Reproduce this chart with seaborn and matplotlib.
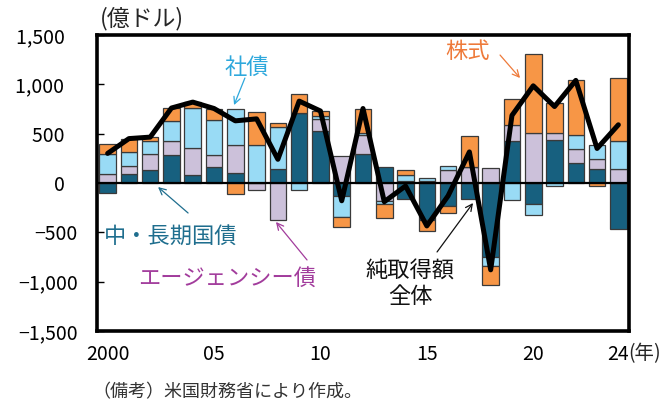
import matplotlib
matplotlib.use("Agg")
import matplotlib.pyplot as plt
import numpy as np
import pandas as pd
import seaborn as sns

# Net purchases of US securities by year (100 million USD)
years = [2000, 2001, 2002, 2003, 2004, 2005, 2006, 2007, 2008, 2009,
         2010, 2011, 2012, 2013, 2014, 2015, 2016, 2017, 2018, 2019,
         2020, 2021, 2022, 2023, 2024]
treasury = [-100, 90, 135, 280, 80, 165, 105, 0, 145, 710,
            530, -130, 295, 165, -160, -370, -235, -165, -745, 430,
            -210, 440, 200, 140, -470]
agency = [95, 80, 160, 145, 270, 115, 280, -70, -370, 0,
          120, 270, 190, -185, 20, 25, 135, 165, 150, 160,
          510, 65, 145, 100, 140]
corporate = [195, 145, 130, 205, 410, 360, 360, 385, 420, -75,
             25, -210, 25, -25, 65, 30, 35, 0, -100, -170,
             -110, -35, 140, 145, 290]
equity = [110, 135, 40, 130, 60, 115, -115, 335, 45, 195,
          55, -110, 245, -145, 45, -120, -65, 315, -185, 265,
          795, 305, 555, -35, 630]

series_names = ["中・長期国債", "エージェンシー債", "社債", "株式"]
series_colors = ["#17607f", "#ccc1da", "#99dbf5", "#f79646"]

ytick_values = [-1500, -1000, -500, 0, 500, 1000, 1500]
ytick_labels = ["−1,500", "−1,000", "−500", "0   ", "500   ", "1,000   ", "1,500   "]
xtick_pos = [0, 5, 10, 15, 20, 24]
xtick_labels = ["2000", "05", "10", "15", "20", "24"]

df = pd.DataFrame({"year": years, "中・長期国債": treasury,
                   "エージェンシー債": agency, "社債": corporate, "株式": equity})
df["total"] = df[series_names].sum(axis=1)
df["pos"] = np.arange(len(df))

sns.set_theme(style="white")
plt.rcParams["font.family"] = ["Noto Sans CJK JP", "DejaVu Sans"]

fig = plt.figure(figsize=(6.72, 4.03), dpi=100)
ax = fig.add_axes([97 / 672, 1 - 331 / 403, 532 / 672, 296 / 403])

# stacked bars: positive parts stack upward, negative parts downward
pos_base = np.zeros(len(df))
neg_base = np.zeros(len(df))
for name, color in zip(series_names, series_colors):
    vals = df[name].to_numpy(dtype=float)
    base = np.where(vals >= 0, pos_base, neg_base)
    ax.bar(df["pos"], vals, bottom=base, width=0.78, color=color,
           edgecolor="#3a3a3a", linewidth=0.9, zorder=2)
    pos_base = pos_base + np.where(vals >= 0, vals, 0)
    neg_base = neg_base + np.where(vals < 0, vals, 0)

ax.axhline(0, color="black", linewidth=1.6, zorder=3)

sns.lineplot(data=df, x="pos", y="total", color="black", linewidth=3.6,
             ax=ax, zorder=4, legend=False)

ax.set_xlim(-0.5, 24.5)
ax.set_ylim(-1500, 1500)
ax.set_yticks(ytick_values)
ax.set_yticklabels(ytick_labels)
ax.set_xticks(xtick_pos)
ax.set_xticklabels(xtick_labels)
ax.set_xlabel("")
ax.set_ylabel("")
ax.tick_params(axis="y", direction="in", length=5, width=1, pad=14,
               labelsize=14, colors="black", left=True)
ax.tick_params(axis="x", length=0, pad=9, labelsize=14, colors="black")
for s in ax.spines.values():
    s.set_color("black")
    s.set_linewidth(2.6)

# year marker placed right after the last tick label, on its baseline
ax.text(24.45, -1500 - 9 * 10.135 * 1.39, "(年)", fontsize=14,
        ha="left", va="top")

fig.text(100 / 672, 1 - 19 / 403, "(億ドル)", fontsize=16.5, ha="left",
         va="center")
fig.text(92 / 672, 1 - 392 / 403, "（備考）米国財務省により作成。",
         fontsize=13, ha="left", va="center", color="#333333")

# labels with pointer arrows
notes = [
    ("社債", (6.55, 1176), (6.45, 1064), (5.94, 790), "#2ea8dc"),
    ("中・長期国債", (2.98, -537), (3.78, -304), (2.37, -41), "#1f6e8e"),
    ("エージェンシー債", (5.61, -963), (9.37, -780), (7.91, -395), "#a23c9c"),
    ("株式", (16.93, 1328), (18.44, 1297), (19.38, 1064), "#ee7a3a"),
    ("純取得額\n全体", (14.21, -1020), (15.48, -699), (17.17, -203), "#111111"),
]
for label, txy, a0, a1, col in notes:
    ax.text(txy[0], txy[1], label, color=col, fontsize=16, ha="center",
            va="center", linespacing=1.15, zorder=5)
    ax.annotate("", xy=a1, xytext=a0,
                arrowprops=dict(arrowstyle="->", color=col, lw=0.9,
                                shrinkA=0, shrinkB=0), zorder=5)

fig.savefig("out.png", dpi=100)
